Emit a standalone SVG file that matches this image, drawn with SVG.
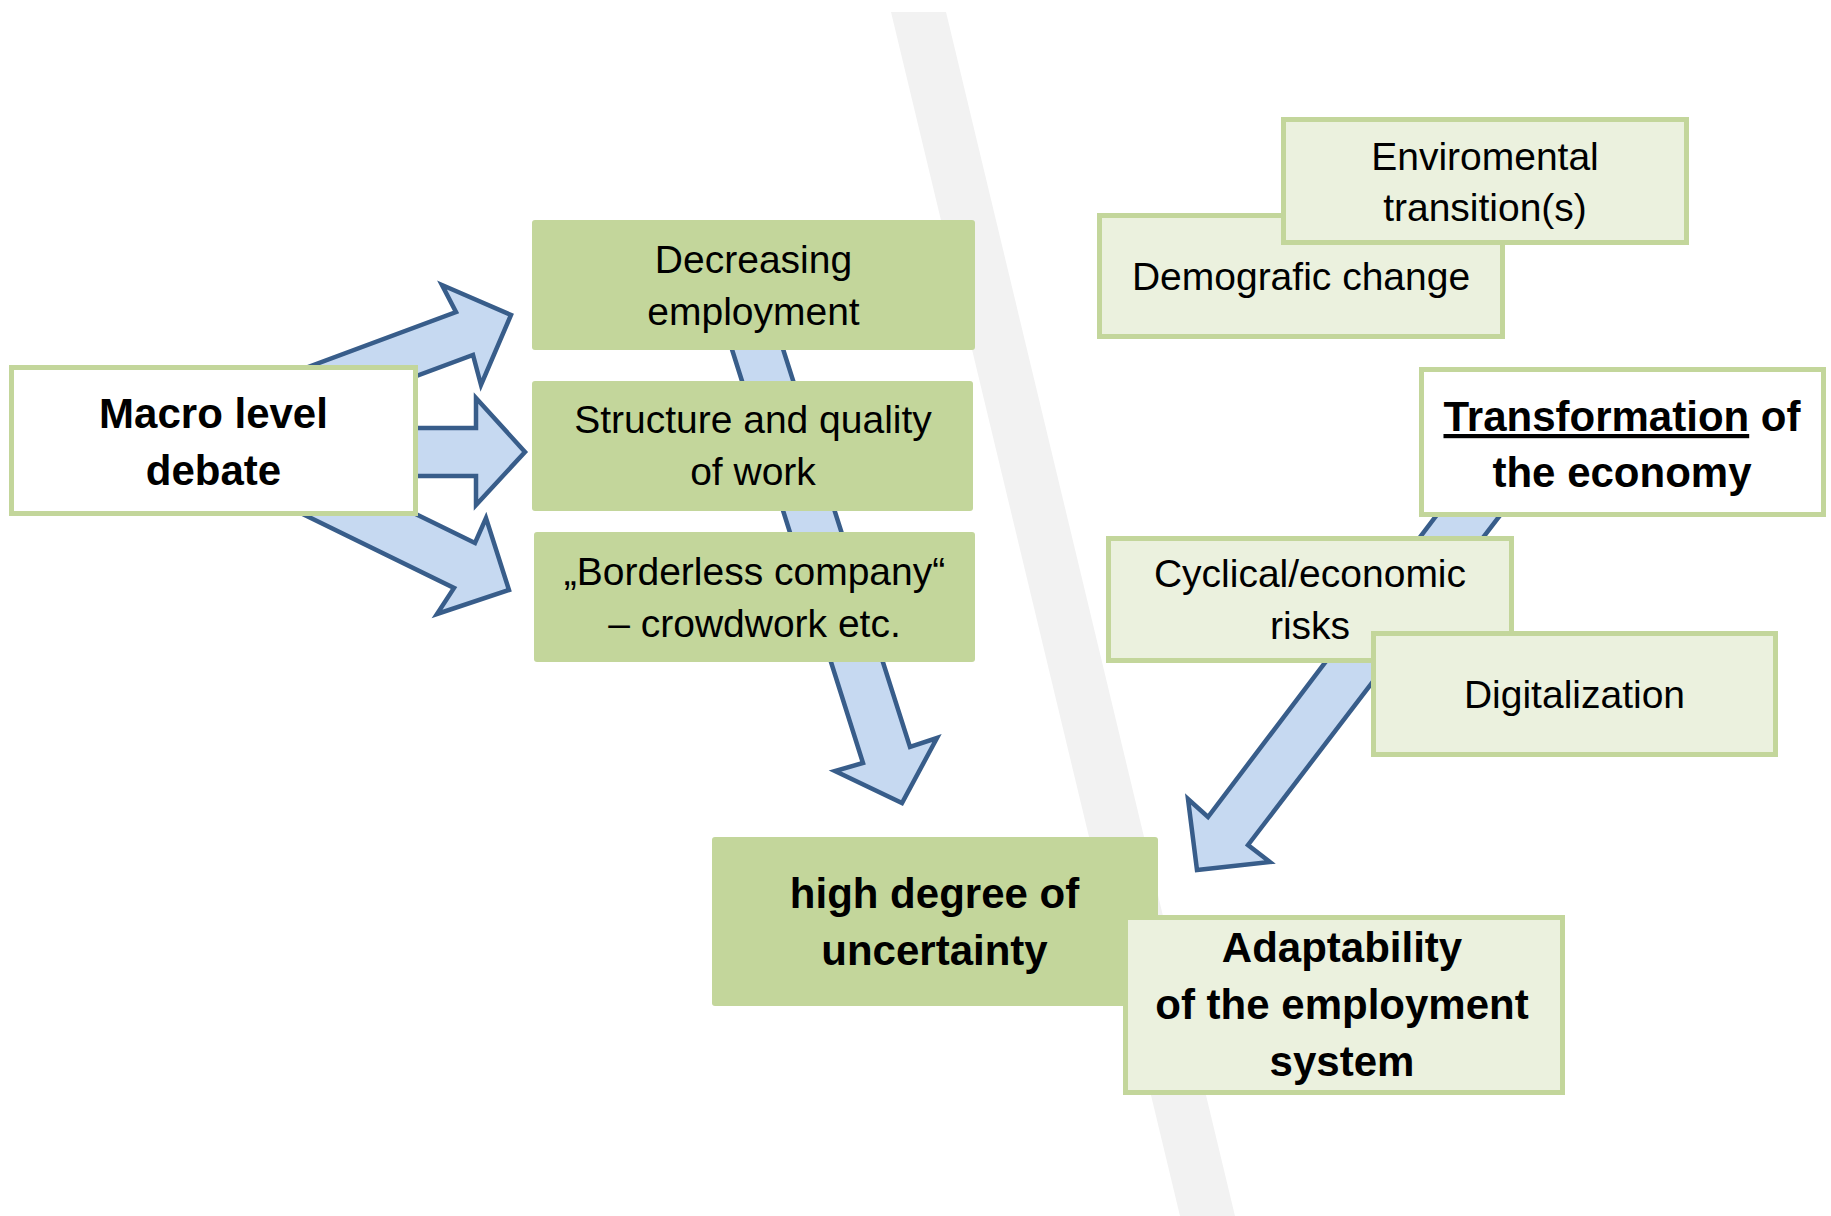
<svg xmlns="http://www.w3.org/2000/svg" width="1831" height="1216" viewBox="0 0 1831 1216">
<style>
.band{fill:#f2f2f2}
.arrow{fill:#c6d9f1;stroke:#385d8a;stroke-width:4.5;stroke-linejoin:miter}
.dark{fill:#c3d69b}
.light{fill:#ebf1de;stroke:#c3d69b;stroke-width:5}
.white{fill:#ffffff;stroke:#c3d69b;stroke-width:5}
.t{font-family:"Liberation Sans",Arial,sans-serif;font-size:39px;fill:#000;text-anchor:middle}
.b{font-family:"Liberation Sans",Arial,sans-serif;font-size:42px;font-weight:bold;fill:#000;text-anchor:middle}
</style>
<rect x="0" y="0" width="1831" height="1216" fill="#ffffff"/>
<polygon class="band" points="891,12 946,12 1235,1216 1180,1216"/>
<g id="connectors">
<polygon class="arrow" points="222,399 456,312 442,285 511,315 481,385 473,355 239,442"/>
<polygon class="arrow" points="300,428 476,428 476,398 525,452 476,505 476,476 300,476"/>
<polygon class="arrow" points="250,433 475,543 486,518 509,590 437,614 454,588 229,478"/>
<polygon class="arrow" points="710,280 761,280 910,747 937,738 902,803 835,771 863,763"/>
<polygon class="arrow" points="1486,450 1550,450 1248,845 1270,862 1197,870 1188,799 1208,817"/>
</g>
<g id="macro">
<rect class="white" x="11.5" y="367.5" width="404" height="146"/>
<text class="b" x="213.5" y="428">Macro level</text>
<text class="b" x="213.5" y="485">debate</text>
</g>
<g id="decreasing">
<rect class="dark" x="532" y="220" width="443" height="130" rx="3"/>
<text class="t" x="753.5" y="273">Decreasing</text>
<text class="t" x="753.5" y="325">employment</text>
</g>
<g id="structure">
<rect class="dark" x="532" y="381" width="441" height="130" rx="3"/>
<text class="t" x="753" y="433">Structure and quality</text>
<text class="t" x="753" y="485">of work</text>
</g>
<g id="borderless">
<rect class="dark" x="534" y="532" width="441" height="130" rx="3"/>
<text class="t" x="754.5" y="585">„Borderless company“</text>
<text class="t" x="754.5" y="637">– crowdwork etc.</text>
</g>
<g id="demografic">
<rect class="light" x="1099.5" y="215.5" width="403" height="121"/>
<text class="t" x="1301" y="290">Demografic change</text>
</g>
<g id="enviromental">
<rect class="light" x="1283.5" y="119.5" width="403" height="123"/>
<text class="t" x="1485" y="170">Enviromental</text>
<text class="t" x="1485" y="221">transition(s)</text>
</g>
<g id="transformation">
<rect class="white" x="1421.5" y="369.5" width="402" height="145"/>
<text class="b" x="1622" y="431"><tspan text-decoration="underline">Transformation</tspan> of</text>
<text class="b" x="1622" y="487">the economy</text>
</g>
<g id="cyclical">
<rect class="light" x="1108.5" y="538.5" width="403" height="122"/>
<text class="t" x="1310" y="587">Cyclical/economic</text>
<text class="t" x="1310" y="639">risks</text>
</g>
<g id="digitalization">
<rect class="light" x="1373.5" y="633.5" width="402" height="121"/>
<text class="t" x="1574.5" y="708">Digitalization</text>
</g>
<g id="uncertainty">
<rect class="dark" x="712" y="837" width="446" height="169" rx="3"/>
<text class="b" x="934.5" y="908">high degree of</text>
<text class="b" x="934.5" y="965">uncertainty</text>
</g>
<g id="adaptability">
<rect class="light" x="1125.5" y="917.5" width="437" height="175"/>
<text class="b" x="1342" y="962">Adaptability</text>
<text class="b" x="1342" y="1019">of the employment</text>
<text class="b" x="1342" y="1076">system</text>
</g>
</svg>
